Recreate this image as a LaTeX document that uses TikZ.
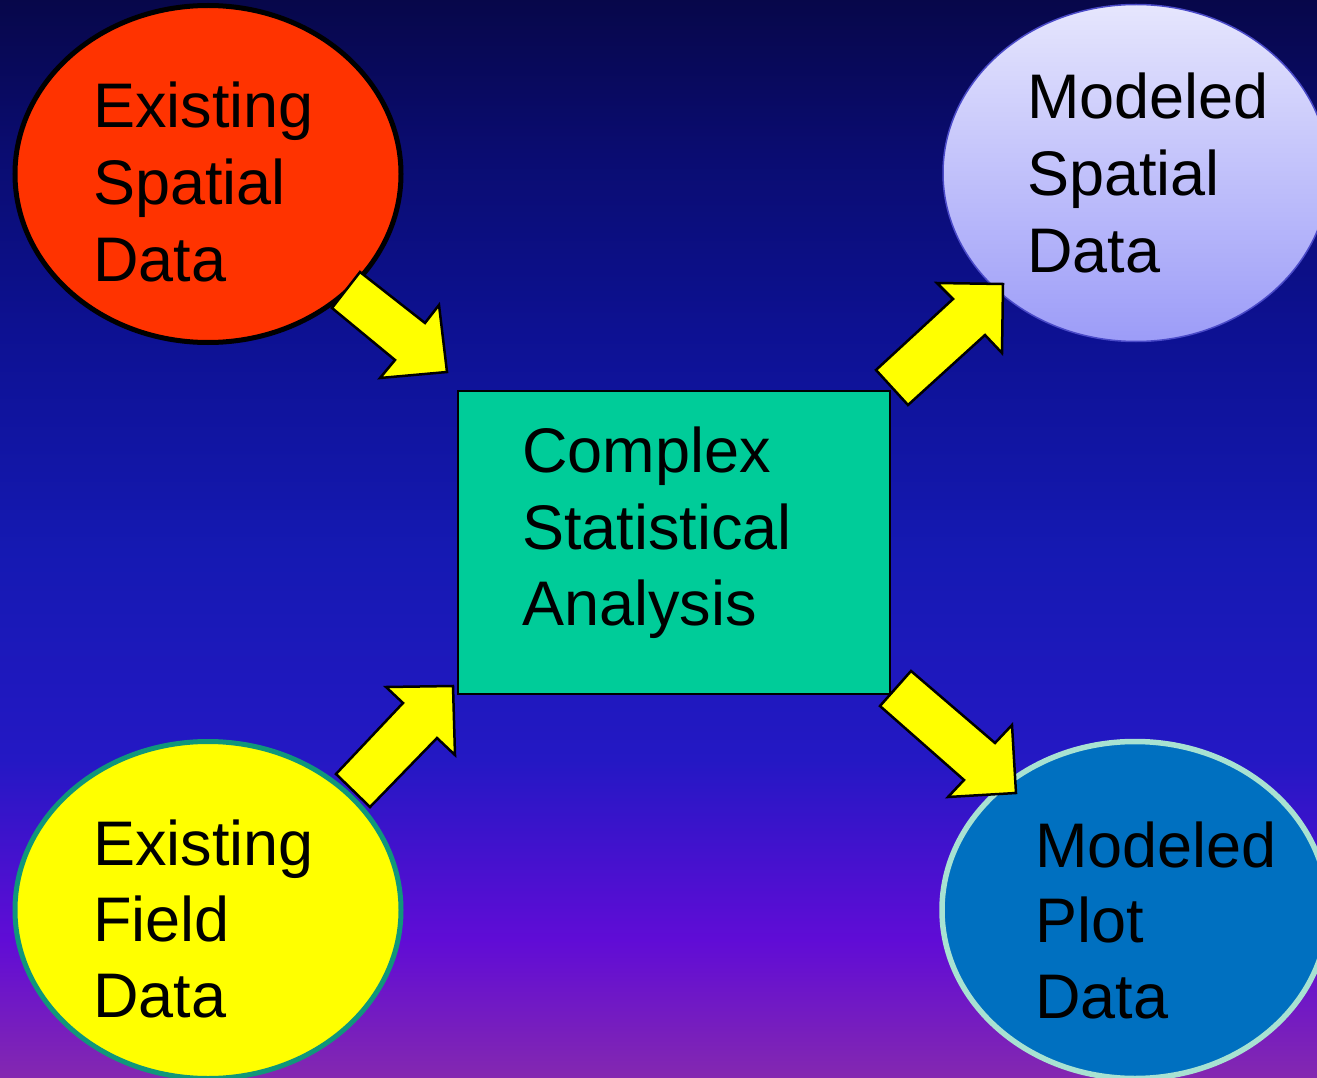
\documentclass[tikz,border=0pt]{standalone}
\usepackage{fontspec}
\setmainfont{Liberation Sans}
\usetikzlibrary{shapes.geometric}
\definecolor{bg0}{HTML}{07074A}
\definecolor{bg1}{HTML}{0A0C70}
\definecolor{bg2}{HTML}{0D1192}
\definecolor{bg3}{HTML}{1519B2}
\definecolor{bg4}{HTML}{2418C4}
\definecolor{bg5}{HTML}{600CD6}
\definecolor{bg6}{HTML}{8428B0}
\definecolor{redfill}{HTML}{FF3300}
\definecolor{yelborder}{HTML}{10977A}
\definecolor{bluefill}{HTML}{0070C0}
\definecolor{blueborder}{HTML}{A8E2D2}
\definecolor{rectfill}{HTML}{00CC99}
\definecolor{lavtop}{HTML}{E6E6FD}
\definecolor{lavbot}{HTML}{9C9CF8}
\definecolor{lavborder}{HTML}{4A4AC8}
\definecolor{arrowfill}{HTML}{FFFF00}
\begin{document}
\begin{tikzpicture}[x=1pt,y=-1pt,
  bubble/.style={ellipse, minimum width=386pt, minimum height=337pt, inner sep=0pt},
  lbl/.style={anchor=base west, inner sep=0pt, font=\fontsize{63}{77}\selectfont, text=black},
  blockarrow/.style={fill=arrowfill, draw=black, line width=2.5pt, line join=miter}]
\useasboundingbox (0,0) rectangle (1317,1078);
\clip (0,0) rectangle (1317,1078);
% background bands
\shade[top color=bg0, bottom color=bg1] (0,0) rectangle (1317,150.5);
\shade[top color=bg1, bottom color=bg2] (0,150) rectangle (1317,330.5);
\shade[top color=bg2, bottom color=bg3] (0,330) rectangle (1317,550.5);
\shade[top color=bg3, bottom color=bg4] (0,550) rectangle (1317,760.5);
\shade[top color=bg4, bottom color=bg5] (0,760) rectangle (1317,940.5);
\shade[top color=bg5, bottom color=bg6] (0,940) rectangle (1317,1078);
% bubbles
\node[bubble, fill=redfill, draw=black, line width=5pt] (esd) at (208,174) {};
\node[bubble, top color=lavtop, bottom color=lavbot, draw=lavborder, line width=1.5pt] (msd) at (1136,173) {};
\node[bubble, fill=arrowfill, draw=yelborder, line width=5pt] (efd) at (208,910) {};
\node[bubble, fill=bluefill, draw=blueborder, line width=5.5pt] (mpd) at (1135,910) {};
% centre box
\node[draw=black, fill=rectfill, line width=2.5pt, minimum width=432pt, minimum height=303pt, inner sep=0pt] (csa) at (674,542.5) {};
% texts
\node[lbl] (esdA) at (93,128) {Existing};
\node[lbl] (esdB) at (93,205) {Spatial};
\node[lbl] (esdC) at (93,281) {Data};
\node[lbl] (msdA) at (1027,119) {Modeled};
\node[lbl] (msdB) at (1027,196) {Spatial};
\node[lbl] (msdC) at (1027,272) {Data};
\node[lbl] (efdA) at (93,865) {Existing};
\node[lbl] (efdB) at (93,941) {Field};
\node[lbl] (efdC) at (93,1017) {Data};
\node[lbl] (mpdA) at (1035,867) {Modeled};
\node[lbl] (mpdB) at (1035,942) {Plot};
\node[lbl] (mpdC) at (1035,1018) {Data};
\node[lbl] (csaA) at (522,472) {Complex};
\node[lbl] (csaB) at (522,549) {Statistical};
\node[lbl] (csaC) at (522,625) {Analysis};
% block arrows
\draw[blockarrow] (360,272) -- (425,323) -- (439,305) -- (447,372) -- (380,378) -- (395,360) -- (332,308) -- cycle;
\draw[blockarrow] (876,370) -- (953,299) -- (937,283) -- (1003,284) -- (1002,353) -- (985,335) -- (908,405) -- cycle;
\draw[blockarrow] (336,774) -- (403,703) -- (386,687) -- (453,686) -- (455,755) -- (437,738) -- (370,807) -- cycle;
\draw[blockarrow] (911,671) -- (995,743) -- (1012,725) -- (1016,793) -- (948,797) -- (964,780) -- (880,706) -- cycle;
\end{tikzpicture}
\end{document}
